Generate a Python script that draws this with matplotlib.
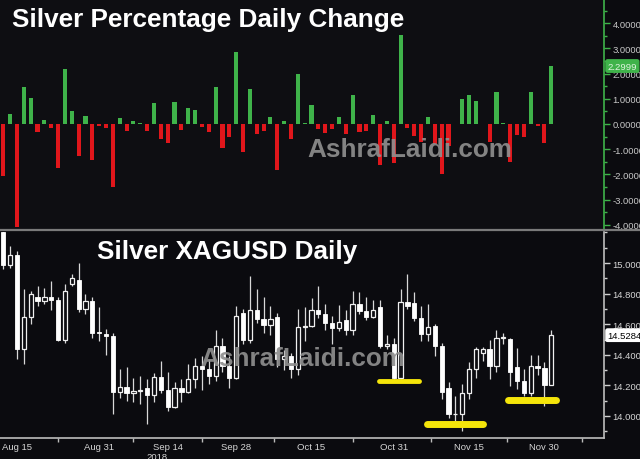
import numpy as np
import pandas as pd
import matplotlib
matplotlib.use("Agg")
import matplotlib.pyplot as plt
from matplotlib.lines import Line2D

plt.rcParams['font.family'] = ['Liberation Sans', 'DejaVu Sans']

# trading days shown (Aug 13 - Dec 3, 2018)
dates = pd.bdate_range('2018-08-13', '2018-12-03')

pct_change = [-2.05, 0.40, -4.10, 1.45, 1.03, -0.33, 0.17, -0.17, -1.75, 2.18,
              0.53, -1.28, 0.33, -1.42, -0.07, -0.17, -2.50, 0.22, -0.27, 0.13,
              0.03, -0.28, 0.82, -0.60, -0.75, 0.86, -0.24, 0.63, 0.56, -0.13,
              -0.33, 1.45, -0.95, -0.53, 2.84, -1.12, 1.39, -0.40, -0.27, 0.27,
              -1.81, 0.10, -0.60, 1.98, 0.02, 0.77, -0.20, -0.36, -0.22, 0.29,
              -0.40, 1.16, -0.33, -0.27, 0.36, -1.63, 0.10, -1.55, 3.53, -0.17,
              -0.49, -0.73, 0.29, -0.79, -2.00, -0.86, -0.02, 0.99, 1.15, 0.90,
              0.01, -0.73, 1.28, 0.04, -1.52, -0.44, -0.53, 1.28, -0.09, -0.75,
              2.2999]

opens = [15.20, 14.99, 15.05, 14.44, 14.65, 14.78, 14.75, 14.78, 14.76, 14.50,
         14.86, 14.89, 14.70, 14.755, 14.55, 14.535, 14.52, 14.155, 14.19, 14.15,
         14.165, 14.18, 14.14, 14.255, 14.17, 14.06, 14.185, 14.16, 14.245, 14.325,
         14.305, 14.26, 14.46, 14.325, 14.25, 14.675, 14.495, 14.695, 14.635, 14.595,
         14.645, 14.37, 14.39, 14.305, 14.585, 14.59, 14.69, 14.665, 14.61, 14.575,
         14.63, 14.56, 14.73, 14.685, 14.645, 14.715, 14.455, 14.47, 14.25, 14.745,
         14.74, 14.64, 14.535, 14.59, 14.46, 14.18, 14.01, 14.015, 14.15, 14.31,
         14.415, 14.44, 14.325, 14.51, 14.505, 14.32, 14.23, 14.15, 14.33, 14.315,
         14.205]
highs = [15.28, 15.11, 15.08, 14.83, 14.82, 14.85, 14.84, 14.88, 14.78, 14.86,
         14.93, 15.00, 14.80, 14.78, 14.71, 14.57, 14.545, 14.31, 14.32, 14.25,
         14.26, 14.24, 14.28, 14.36, 14.29, 14.22, 14.24, 14.34, 14.38, 14.39,
         14.37, 14.56, 14.51, 14.39, 14.72, 14.70, 14.915, 14.83, 14.78, 14.72,
         14.675, 14.43, 14.41, 14.70, 14.71, 14.77, 14.85, 14.73, 14.655, 14.725,
         14.69, 14.82, 14.81, 14.78, 14.76, 14.76, 14.53, 14.51, 14.83, 14.93,
         14.81, 14.72, 14.73, 14.60, 14.48, 14.22, 14.13, 14.21, 14.35, 14.45,
         14.45, 14.495, 14.56, 14.545, 14.51, 14.445, 14.31, 14.40, 14.40, 14.35,
         14.565]
lows = [14.96, 14.97, 14.37, 14.34, 14.60, 14.72, 14.73, 14.69, 14.49, 14.48,
        14.85, 14.68, 14.67, 14.51, 14.49, 14.40, 14.015, 14.12, 14.10, 14.09,
        14.08, 13.95, 14.09, 14.15, 14.03, 14.055, 14.09, 14.15, 14.185, 14.17,
        14.21, 14.23, 14.29, 14.185, 14.24, 14.47, 14.48, 14.61, 14.545, 14.53,
        14.32, 14.30, 14.25, 14.27, 14.49, 14.58, 14.64, 14.56, 14.47, 14.555,
        14.53, 14.53, 14.665, 14.63, 14.64, 14.445, 14.435, 14.245, 14.24, 14.70,
        14.62, 14.49, 14.49, 14.39, 14.11, 13.99, 13.955, 13.905, 14.11, 14.25,
        14.36, 14.24, 14.29, 14.47, 14.195, 14.175, 14.13, 14.13, 14.27, 14.065,
        14.20]
closes = [14.99, 15.05, 14.44, 14.65, 14.80, 14.75, 14.78, 14.76, 14.50, 14.82,
          14.90, 14.70, 14.75, 14.54, 14.54, 14.52, 14.155, 14.19, 14.15, 14.165,
          14.17, 14.14, 14.255, 14.17, 14.06, 14.185, 14.16, 14.245, 14.325, 14.305,
          14.26, 14.46, 14.325, 14.25, 14.655, 14.495, 14.695, 14.635, 14.595, 14.635,
          14.37, 14.39, 14.305, 14.585, 14.59, 14.69, 14.665, 14.61, 14.575, 14.615,
          14.56, 14.73, 14.685, 14.645, 14.69, 14.455, 14.47, 14.25, 14.745, 14.72,
          14.64, 14.535, 14.58, 14.46, 14.16, 14.01, 14.015, 14.15, 14.31, 14.435,
          14.44, 14.325, 14.51, 14.515, 14.29, 14.23, 14.15, 14.33, 14.315, 14.205,
          14.5284]

tick_dates = ['2018-08-15', '2018-08-31', '2018-09-14', '2018-09-28',
              '2018-10-15', '2018-10-31', '2018-11-15', '2018-11-30']
tick_labels = ['Aug 15', 'Aug 31', 'Sep 14', 'Sep 28', 'Oct 15', 'Oct 31', 'Nov 15', 'Nov 30']

# yellow support marks drawn on the chart: start, end (in trading-day index), price
mark_start = [54.8, 61.9, 73.7]
mark_end = [60.7, 70.0, 80.7]
mark_level = [14.227, 13.948, 14.107]

BG = '#0b0b0f'
GREEN = '#3fb34a'
RED = '#e0161b'

fig = plt.figure(figsize=(6.4, 4.6), dpi=100, facecolor=BG)
W = 604 / 640
ax1 = fig.add_axes([0, 230 / 460, W, 230 / 460], facecolor='#0e0e12')
ax2 = fig.add_axes([0, 21 / 460, W, 206 / 460], facecolor=BG)

x = np.arange(len(dates))
xlim = (-0.48, 87.7)

# ---- top: percentage change bars
cols = [GREEN if v >= 0 else RED for v in pct_change]
ax1.bar(x, pct_change, width=0.6, color=cols, zorder=2)
ax1.set_xlim(*xlim)
ax1.set_ylim(-4.17, 4.96)
ax1.set_xticks([])
ax1.yaxis.tick_right()
ax1.set_yticks(np.arange(-4, 5, 1))
ax1.set_yticks(np.arange(-3.5, 5, 1), minor=True)
ax1.set_yticklabels(['%.4f' % v for v in np.arange(-4, 5, 1)])
ax1.tick_params(axis='y', which='major', length=4, width=1, color=GREEN,
                labelcolor='#c8c8c8', labelsize=6.8, pad=2)
ax1.tick_params(axis='y', which='minor', length=2, width=1, color=GREEN)
for s in ['left', 'top', 'bottom']:
    ax1.spines[s].set_visible(False)
ax1.spines['right'].set_color(GREEN)
ax1.spines['right'].set_linewidth(1.2)
ax1.text(1.006, pct_change[-1], '%.4f' % pct_change[-1], transform=ax1.get_yaxis_transform(),
         ha='left', va='center', fontsize=6.8, color='#dff5df', clip_on=False, zorder=5,
         bbox=dict(boxstyle='round,pad=0.18', fc=GREEN, ec=GREEN))

# ---- bottom: candlesticks
for i in range(len(dates)):
    o, h, l, c = opens[i], highs[i], lows[i], closes[i]
    ax2.vlines(x[i], l, h, color='#d8d8d8', lw=0.9, zorder=2)
    lo, hi = min(o, c), max(o, c)
    ht = max(hi - lo, 0.006)
    if c >= o:
        ax2.bar(x[i], ht, bottom=lo, width=0.62, facecolor=BG, edgecolor='#f0f0f0',
                linewidth=0.9, zorder=3)
    else:
        ax2.bar(x[i], ht, bottom=lo, width=0.62, facecolor='white', edgecolor='white',
                linewidth=0.6, zorder=3)

for s0, s1, lev, lw in zip(mark_start, mark_end, mark_level, [3.5, 5, 5]):
    ax2.plot([s0, s1], [lev, lev], color='#f5e50a', lw=lw, solid_capstyle='round', zorder=4)

ax2.set_xlim(*xlim)
ax2.set_ylim(13.856, 15.203)
ax2.yaxis.tick_right()
yt = np.arange(14.0, 15.01, 0.2)
ax2.set_yticks(yt)
ax2.set_yticklabels(['%.4f' % v for v in yt])
ax2.set_yticks(np.arange(13.9, 15.21, 0.1), minor=True)
ax2.tick_params(axis='y', which='major', length=4, width=1, color='#cfcfcf',
                labelcolor='#d6d6d6', labelsize=6.8, pad=2)
ax2.tick_params(axis='y', which='minor', length=2, width=1, color='#cfcfcf')

pos = [dates.get_loc(pd.Timestamp(d)) for d in tick_dates]
mids = [(a + b) / 2 for a, b in zip(pos[:-1], pos[1:])] + [pos[-1] + 5.5]
ax2.set_xticks(mids)
ax2.set_xticklabels([''] * len(mids))
ax2.set_xticks(pos, minor=True)
ax2.set_xticklabels(tick_labels, minor=True)
ax2.tick_params(axis='x', which='major', length=3, width=1, color='#bbbbbb')
ax2.tick_params(axis='x', which='minor', length=0, labelcolor='#d6d6d6', labelsize=6.8, pad=3)
for s in ['left', 'top']:
    ax2.spines[s].set_visible(False)
for s in ['right', 'bottom']:
    ax2.spines[s].set_color('#bdbdbd')
    ax2.spines[s].set_linewidth(1.2)
ax2.text(1.006, closes[-1], '%.4f' % closes[-1], transform=ax2.get_yaxis_transform(),
         ha='left', va='center', fontsize=6.8, color='black', clip_on=False, zorder=5,
         bbox=dict(boxstyle='round,pad=0.18', fc='white', ec='white'))

# separator between panels
fig.add_artist(Line2D([0, 1], [1 - 231 / 460] * 2, color='#7a7a7a', lw=1.6))

# titles, watermark, year
fig.text(12 / 640, 1 - 27 / 460, 'Silver Percentage Daily Change', color='white',
         fontsize=18.8, fontweight='bold', va='baseline', ha='left')
fig.text(97 / 640, 1 - 259 / 460, 'Silver XAGUSD Daily', color='white',
         fontsize=18.8, fontweight='bold', va='baseline', ha='left')
for wx, wy in [(307, 157), (200, 366)]:
    fig.text(wx / 640, 1 - wy / 460, 'AshrafLaidi.com', color='#8e8e8e', alpha=0.92,
             fontsize=18.8, fontweight='bold', va='baseline', ha='left', zorder=10)
fig.text(157 / 640, 1 - 458 / 460, '2018', color='#d6d6d6', fontsize=6.8,
         ha='center', va='center')

fig.savefig('out.png', dpi=100, facecolor=BG)
